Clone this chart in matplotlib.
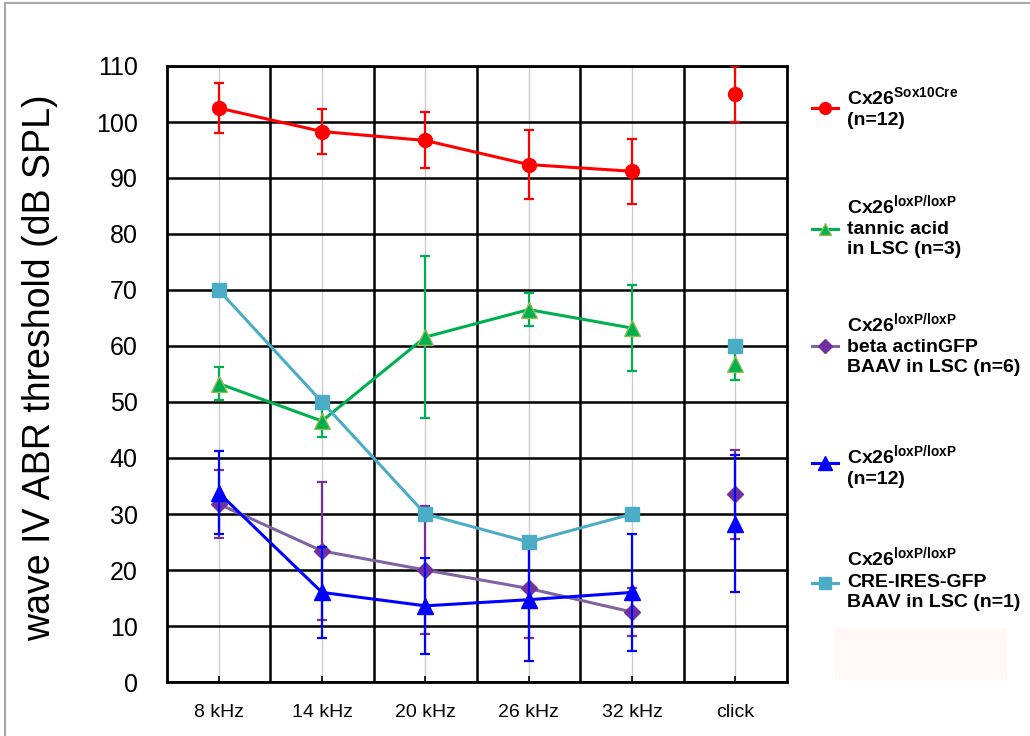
import matplotlib
matplotlib.use('Agg')
import matplotlib.pyplot as plt
from matplotlib.lines import Line2D
from matplotlib.patches import Rectangle
from matplotlib import font_manager
import numpy as np

plt.rcParams['font.family'] = ['Liberation Sans', 'DejaVu Sans']
plt.rcParams['mathtext.fontset'] = 'custom'
plt.rcParams['mathtext.bf'] = 'Liberation Sans:bold'
plt.rcParams['mathtext.rm'] = 'Liberation Sans'

# Data
categories = ['8 kHz', '14 kHz', '20 kHz', '26 kHz', '32 kHz', 'click']

sox10_mean = [102.5, 98.3, 96.7, 92.4, 91.2, 105.0]
sox10_err = [4.5, 4.0, 5.0, 6.1, 5.8, 5.0]

tannic_mean = [53.3, 46.6, 61.6, 66.5, 63.2, 56.8]
tannic_err = [2.9, 2.9, 14.4, 2.9, 7.7, 2.8]

actin_mean = [31.8, 23.4, 20.0, 16.7, 12.5, 33.5]
actin_err = [6.1, 12.3, 11.4, 8.9, 4.2, 8.0]

loxp_mean = [33.8, 16.0, 13.6, 14.7, 16.0, 28.3]
loxp_err = [7.4, 8.1, 8.6, 11.0, 10.4, 12.2]

cre_mean = [70, 50, 30, 25, 30, 60]

labels = [
    r'Cx26$^{\mathbf{Sox10Cre}}$' + '\n(n=12)',
    r'Cx26$^{\mathbf{loxP/loxP}}$' + '\ntannic acid\nin LSC (n=3)',
    r'Cx26$^{\mathbf{loxP/loxP}}$' + '\nbeta actinGFP\nBAAV in LSC (n=6)',
    r'Cx26$^{\mathbf{loxP/loxP}}$' + '\n(n=12)',
    r'Cx26$^{\mathbf{loxP/loxP}}$' + '\nCRE-IRES-GFP\nBAAV in LSC (n=1)',
]

# narrow face for the category labels if there is one
names = {f.name for f in font_manager.fontManager.ttflist}
narrow = 'Liberation Sans Narrow' if 'Liberation Sans Narrow' in names else 'Liberation Sans'

W, H = 1030, 736
fig = plt.figure(figsize=(W / 100, H / 100), dpi=100)
ax = fig.add_axes([167 / W, 1 - 682 / H, 620 / W, 616 / H])

x = np.arange(len(categories))

series = [
    # mean, err, line colour, marker colour, marker, size, edge
    (sox10_mean, sox10_err, '#ff0000', '#ff0000', 'o', 10, '#ff0000'),
    (tannic_mean, tannic_err, '#00b050', '#00b050', '^', 11, '#9bbb59'),
    (actin_mean, actin_err, '#8064a2', '#7030a0', 'D', 8, '#7030a0'),
    (loxp_mean, loxp_err, '#0000ff', '#0000ff', '^', 12, '#0000ff'),
    (cre_mean, None, '#4bacc6', '#4bacc6', 's', 10, '#4bacc6'),
]

for i, (m, e, lc, mc, mk, ms, ec) in enumerate(series):
    m = np.array(m, dtype=float)
    err = None if e is None else np.array(e, dtype=float)
    # frequencies joined by a line
    ax.errorbar(x[:5], m[:5], yerr=None if err is None else err[:5],
                color=lc, lw=2.2, marker=mk, ms=ms, mfc=mc, mec=ec,
                ecolor=mc, elinewidth=1.6, capsize=3.5, capthick=1.6,
                zorder=3 + i, clip_on=False)
    # click on its own
    ax.errorbar(x[5:], m[5:], yerr=None if err is None else err[5:],
                color=lc, ls='none', marker=mk, ms=ms, mfc=mc, mec=ec,
                ecolor=mc, elinewidth=1.6, capsize=3.5, capthick=1.6,
                zorder=3 + i)

ax.set_xlim(-0.5, 5.5)
ax.set_ylim(0, 110)
ax.set_yticks(np.arange(0, 111, 10))
ax.set_xticks(x)
ax.set_xticklabels(categories, fontsize=14, family=narrow)
ax.set_xticks(np.arange(0.5, 5.5, 1), minor=True)
ax.tick_params(axis='y', length=0, pad=21, labelsize=18)
ax.tick_params(axis='x', which='major', length=4, width=1.2, direction='in', pad=16)
ax.tick_params(axis='x', which='minor', length=0)

# light category lines and heavy black cells
ax.grid(True, axis='x', which='major', color='#cccccc', lw=1)
ax.grid(True, axis='x', which='minor', color='black', lw=1.8)
ax.grid(True, axis='y', which='major', color='black', lw=1.8)
ax.set_axisbelow(True)
for s in ax.spines.values():
    s.set_linewidth(2)

fig.text(40 / W, 1 - 368 / H, 'wave IV ABR threshold (dB SPL)', rotation=90,
         ha='center', va='center', fontsize=27)

# legend, laid out by hand
marker_y = [108, 229, 346, 463, 583]
text_top = [98, 205, 323, 455, 558]
for (m, e, lc, mc, mk, ms, ec), lab, my, ty in zip(series, labels, marker_y, text_top):
    fig.add_artist(Line2D([812 / W, 838 / W], [1 - my / H] * 2, color=lc, lw=2.2,
                          transform=fig.transFigure))
    fig.add_artist(Line2D([825 / W], [1 - my / H], marker=mk, ms=ms * 0.85, mfc=mc,
                          mec=ec, transform=fig.transFigure))
    fig.text(847 / W, 1 - (ty - 12) / H, lab, ha='left', va='top', fontsize=14,
             fontweight='bold', linespacing=1.25)

fig.add_artist(Rectangle((835 / W, 1 - 680 / H), 172 / W, 52 / H, fc='#fff8f5',
                         ec='none', transform=fig.transFigure))
fig.add_artist(Rectangle((5 / W, -0.05), 1.2, 1.05 - 3 / H, fill=False, ec='#a8a8a8',
                         lw=1.5, transform=fig.transFigure))

fig.savefig('out.png', dpi=100, facecolor='white')
